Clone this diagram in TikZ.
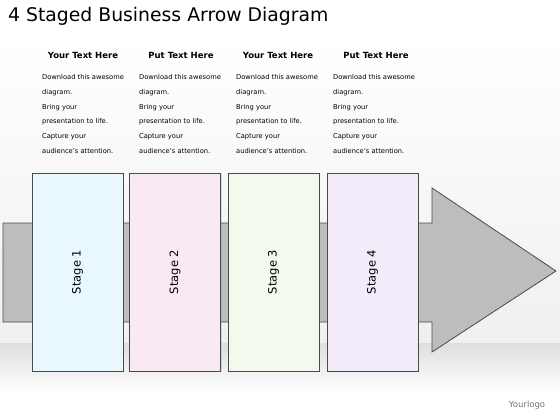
\documentclass[tikz,border=0pt]{standalone}
\usepackage{fontspec}
\setmainfont{DejaVu Sans}
\usetikzlibrary{shadows}

\definecolor{stageA}{HTML}{E9F7FF}
\definecolor{stageB}{HTML}{F9E9F2}
\definecolor{stageC}{HTML}{F2FAEE}
\definecolor{stageD}{HTML}{F3EBFA}
\definecolor{arrowgray}{HTML}{BDBDBD}
\definecolor{edgegray}{HTML}{4A4A4A}

\tikzset{
  stagebox/.style={draw=edgegray, line width=0.8pt, minimum width=91pt, minimum height=198pt,
    drop shadow={opacity=0.25, shadow xshift=1pt, shadow yshift=-1pt}},
  stagelabel/.style={rotate=90, font=\fontsize{11.5}{13}\selectfont},
  headtext/.style={font=\bfseries\fontsize{8.5}{10}\selectfont},
  bodytext/.style={anchor=north west, align=left, inner sep=0pt, font=\fontsize{6.7}{14.7}\selectfont}
}

\begin{document}
\begin{tikzpicture}[x=1pt,y=-1pt]
\useasboundingbox (0,0) rectangle (560,420);
\fill[white] (0,0) rectangle (560,420);
\shade[top color=white, bottom color=black!6] (0,40) rectangle (560,343);
\fill[white] (0,0) rectangle (560,40);
\shade[top color=black!13, bottom color=white] (0,343) rectangle (560,392);

\node[anchor=base west, inner sep=0pt, font=\fontsize{18.8}{20}\selectfont] (title) at (8,22) {4 Staged Business Arrow Diagram};

\draw[draw=edgegray, line width=0.8pt, fill=arrowgray] (3,223) -- (432,223) -- (432,188) -- (556,271) -- (432,352) -- (432,322) -- (3,322) -- cycle;

\node[stagebox, fill=stageA] (s1) at (77.5,272) {};
\node[stagebox, fill=stageB] (s2) at (175,272) {};
\node[stagebox, fill=stageC] (s3) at (273.5,272) {};
\node[stagebox, fill=stageD] (s4) at (372.5,272) {};

\node[stagelabel] (l1) at (s1) {Stage 1};
\node[stagelabel] (l2) at (s2) {Stage 2};
\node[stagelabel] (l3) at (s3) {Stage 3};
\node[stagelabel] (l4) at (s4) {Stage 4};

\node[headtext] (h1) at (83,55) {Your Text Here};
\node[headtext] (h2) at (181,55) {Put Text Here};
\node[headtext] (h3) at (278,55) {Your Text Here};
\node[headtext] (h4) at (376,55) {Put Text Here};

\node[bodytext] (t1) at (42,74.5) {Download this awesome\\diagram.\\Bring your\\presentation to life.\\Capture your\\audience's attention.};
\node[bodytext] (t2) at (139,74.5) {Download this awesome\\diagram.\\Bring your\\presentation to life.\\Capture your\\audience's attention.};
\node[bodytext] (t3) at (236,74.5) {Download this awesome\\diagram.\\Bring your\\presentation to life.\\Capture your\\audience's attention.};
\node[bodytext] (t4) at (333,74.5) {Download this awesome\\diagram.\\Bring your\\presentation to life.\\Capture your\\audience's attention.};

\node[text=black!55, font=\fontsize{8.5}{10}\selectfont] (logo) at (527,405) {Yourlogo};
\end{tikzpicture}
\end{document}
